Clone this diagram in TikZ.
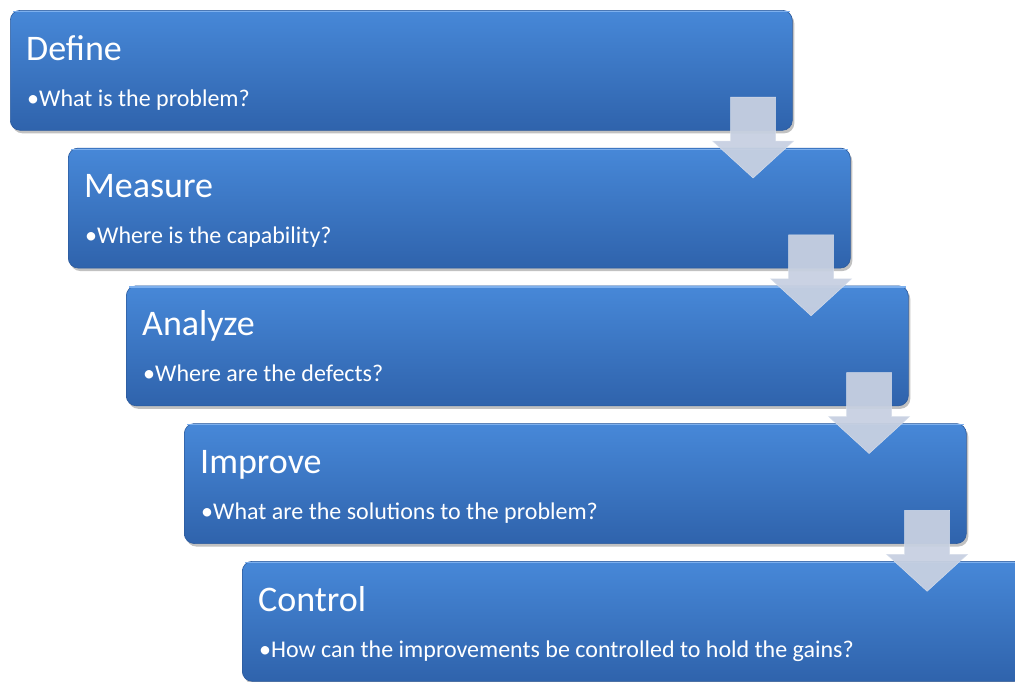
\documentclass[tikz,border=0pt]{standalone}
\usepackage{fontspec}
\setmainfont{Carlito}
\usetikzlibrary{shadows,calc}
\definecolor{boxtop}{HTML}{4788D8}
\definecolor{boxbot}{HTML}{2F63AC}
\definecolor{boxedge}{HTML}{2C5A9C}
\definecolor{boxhi}{HTML}{7DB0EE}
\definecolor{arrowfill}{HTML}{C7D0E1}
\definecolor{arrowedge}{HTML}{D6DDEA}
\begin{document}
\begin{tikzpicture}[x=1pt,y=-1pt,
  stagebox/.style={rounded corners=10pt, top color=boxtop, bottom color=boxbot,
    draw=boxedge, line width=0.6pt, minimum width=782pt, minimum height=120pt,
    anchor=north west, inner sep=0pt,
    drop shadow={shadow xshift=2pt, shadow yshift=-3pt, opacity=0.35, fill=black!70}},
  titletext/.style={anchor=base west, inner sep=0pt, text=white, font=\fontsize{36}{40}\selectfont},
  itemtext/.style={anchor=base west, inner sep=0pt, text=white, font=\fontsize{24}{28}\selectfont},
  blockarrow/.style={fill=arrowfill, draw=arrowedge, line width=0.5pt, fill opacity=0.95}
]
\useasboundingbox (0,0) rectangle (1015,681);

\foreach \i/\nm/\ttl/\itm in {0/define/Define/What is the problem?,
  1/measure/Measure/Where is the capability?,
  2/analyze/Analyze/Where are the defects?,
  3/improve/Improve/What are the solutions to the problem?,
  4/control/Control/How can the improvements be controlled to hold the gains?}{
  \pgfmathsetmacro{\bx}{10+58*\i}
  \pgfmathsetmacro{\by}{10+137.75*\i}
  \node[stagebox] (\nm) at (\bx,\by) {};
  \draw[boxhi, line width=1.2pt, rounded corners=9pt]
    ($(\nm.north west)+(3,1.5)$) -- ($(\nm.north east)+(-3,1.5)$);
  \node[titletext] (\nm-title) at ($(\nm.north west)+(16,50)$) {\ttl};
  \node[itemtext] (\nm-item) at ($(\nm.north west)+(17,96)$) {•\itm};
}

\foreach \a/\b in {define/measure, measure/analyze, analyze/improve, improve/control}{
  \coordinate (top-\a) at ($(\a.north east)+(-39.5,87)$);
  \draw[blockarrow]
    ($(top-\a)+(-22.5,0)$) -- ($(top-\a)+(22.5,0)$) -- ($(top-\a)+(22.5,44)$)
    -- ($(top-\a)+(40.5,44)$) -- ($(top-\a)+(0,81)$) -- ($(top-\a)+(-40.5,44)$)
    -- ($(top-\a)+(-22.5,44)$) -- cycle;
}
\end{tikzpicture}
\end{document}
